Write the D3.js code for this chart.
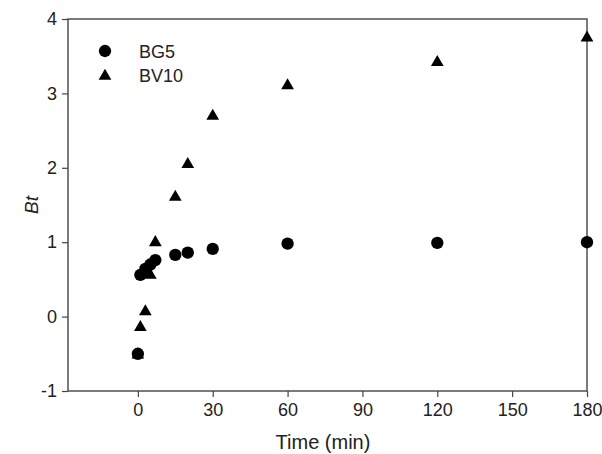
<!DOCTYPE html>
<html><head><meta charset="utf-8">
<script src="https://cdn.jsdelivr.net/npm/d3@7"></script>
<style>body{margin:0;background:#fff}</style>
</head><body>
<svg id="c" width="602" height="454"></svg>
<script>
const times = [0, 1, 3, 5, 7, 15, 20, 30, 60, 120, 180];
const bg5 = [-0.50, 0.56, 0.64, 0.70, 0.76, 0.83, 0.86, 0.91, 0.98, 0.99, 1.00];
const bv10 = [-0.50, -0.13, 0.08, 0.57, 1.01, 1.62, 2.06, 2.71, 3.12, 3.43, 3.76];
const xTicks = [0, 30, 60, 90, 120, 150, 180];
const yTicks = [-1, 0, 1, 2, 3, 4];
const seriesNames = ["BG5", "BV10"];

const svg = d3.select("#c");
const L = 68, R = 587, T = 19, B = 391;
const x = d3.scaleLinear().domain([-28, 180]).range([L, R]);
const y = d3.scaleLinear().domain([-1, 4]).range([B, T]);
const font = "Arial, 'Liberation Sans', sans-serif";
const axCol = "#444";

svg.append("rect").attr("x", L).attr("y", T).attr("width", R - L).attr("height", B - T)
  .attr("fill", "none").attr("stroke", axCol).attr("stroke-width", 1.4);

const xa = svg.append("g").attr("transform", `translate(0,${B})`)
  .call(d3.axisBottom(x).tickValues(xTicks).tickFormat(d => String(d)).tickSize(6).tickPadding(6).tickSizeOuter(0));
const ya = svg.append("g").attr("transform", `translate(${L},0)`)
  .call(d3.axisLeft(y).tickValues(yTicks).tickFormat(d => String(d)).tickSize(6).tickPadding(5).tickSizeOuter(0));
[xa, ya].forEach(g => {
  g.select(".domain").remove();
  g.selectAll("line").attr("stroke", axCol).attr("stroke-width", 1.2);
  g.selectAll("text").attr("font-family", font).attr("font-size", 18).attr("fill", "#222");
});

svg.append("text").attr("x", 323).attr("y", 449).attr("text-anchor", "middle")
  .attr("font-family", font).attr("font-size", 20).attr("fill", "#222").text("Time (min)");
svg.append("text").attr("transform", `translate(38,205) rotate(-90)`)
  .attr("text-anchor", "middle").attr("font-family", font).attr("font-size", 19)
  .attr("font-style", "italic").attr("fill", "#222").text("Bt");

const tri = d3.symbol().type(d3.symbolTriangle).size(70);
const circ = d3.symbol().type(d3.symbolCircle).size(120);

svg.append("g").selectAll("path").data(times.map((t, i) => [t, bv10[i]])).join("path")
  .attr("d", tri).attr("transform", d => `translate(${x(d[0])},${y(d[1]) + 1})`).attr("fill", "#000");
svg.append("g").selectAll("path").data(times.map((t, i) => [t, bg5[i]])).join("path")
  .attr("d", circ).attr("transform", d => `translate(${x(d[0])},${y(d[1])})`).attr("fill", "#000");

const leg = svg.append("g");
leg.append("path").attr("d", circ).attr("transform", "translate(105,51)").attr("fill", "#000");
leg.append("path").attr("d", tri).attr("transform", "translate(105,76)").attr("fill", "#000");
leg.append("text").attr("x", 139).attr("y", 58).attr("font-family", font).attr("font-size", 18)
  .attr("fill", "#222").text(seriesNames[0]);
leg.append("text").attr("x", 139).attr("y", 82).attr("font-family", font).attr("font-size", 18)
  .attr("fill", "#222").text(seriesNames[1]);
</script>
</body></html>
